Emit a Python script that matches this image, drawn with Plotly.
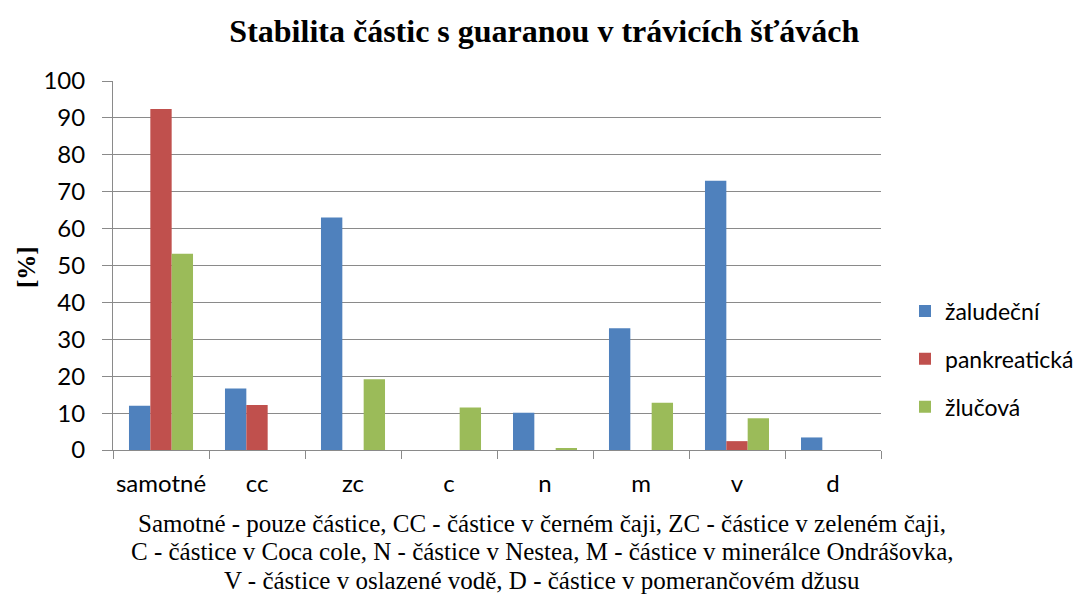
import plotly.graph_objects as go

categories = ["samotné", "cc", "zc", "c", "n", "m", "v", "d"]
zaludecni = [12.0, 16.7, 63.0, 0, 10.1, 33.0, 73.0, 3.4]
pankreaticka = [92.4, 12.2, 0, 0, 0, 0, 2.4, 0]
zlucova = [53.2, 0, 19.2, 11.5, 0.4, 12.8, 8.6, 0]
series_names = ["žaludeční", "pankreatická", "žlučová"]
colors = ["#4F81BD", "#C0504D", "#9BBB59"]
footnote_lines = [
    "Samotné - pouze částice, CC - částice v černém čaji, ZC - částice v zeleném čaji,",
    "C - částice v Coca cole, N - částice v Nestea, M - částice v minerálce Ondrášovka,",
    "V - částice v oslazené vodě, D - částice v pomerančovém džusu",
]

fig = go.Figure()
for name, vals, col in zip(series_names, [zaludecni, pankreaticka, zlucova], colors):
    fig.add_trace(go.Bar(x=categories, y=vals, name=name, marker_color=col,
                         marker_line_width=0, legendgroup=name))

sans = "Lato, 'Open Sans', sans-serif"
serif = "Liberation Serif, 'Times New Roman', serif"
axis_font = dict(family=sans, size=24, color="#000000")
grid = "#8A8A8A"

# plot area in page pixels: x 113..881, y 81..450
def px_x(p):
    return (p - 113) / 768

def px_y(p):
    return (450 - p) / 369

annotations = [dict(text=t, xref="paper", yref="paper", x=px_x(542), y=px_y(yc),
                    xanchor="center", yanchor="middle", showarrow=False,
                    font=dict(family=serif, size=25, color="#000000"))
               for t, yc in zip(footnote_lines, [523, 551.5, 580])]
annotations.append(dict(text="<b>[%]</b>", xref="paper", yref="paper", x=px_x(26), y=px_y(267),
                        xanchor="center", yanchor="middle", textangle=-90, showarrow=False,
                        font=dict(family=serif, size=25, color="#000000")))

fig.update_layout(
    width=1077, height=589,
    margin=dict(l=105, r=204, t=73, b=147, autoexpand=False),
    paper_bgcolor="white", plot_bgcolor="white",
    barmode="group", bargap=0.333, bargroupgap=0,
    title=dict(text="<b>Stabilita částic s guaranou v trávicích šťávách</b>",
               x=0.498, xanchor="center", y=0.962, yanchor="middle",
               font=dict(family=serif, size=32, color="#000000")),
    xaxis=dict(showline=True, linecolor=grid, linewidth=1,
               ticks="outside", ticklen=8, tickcolor=grid, tickson="boundaries",
               tickfont=axis_font, showgrid=False, ticklabelstandoff=12,
               tickangle=0, automargin=False),
    yaxis=dict(range=[0, 100], dtick=10, showline=True, linecolor=grid, linewidth=1,
               ticks="outside", ticklen=10, tickcolor=grid,
               showgrid=True, gridcolor=grid, gridwidth=1,
               tickfont=axis_font, zeroline=False, ticklabelstandoff=12, automargin=False),
    legend=dict(x=px_x(905), xanchor="left", y=px_y(359), yanchor="middle",
                font=dict(family=sans, size=23, color="#000000"),
                tracegroupgap=15, itemwidth=30),
    annotations=annotations,
)

fig.write_html("out.html")
